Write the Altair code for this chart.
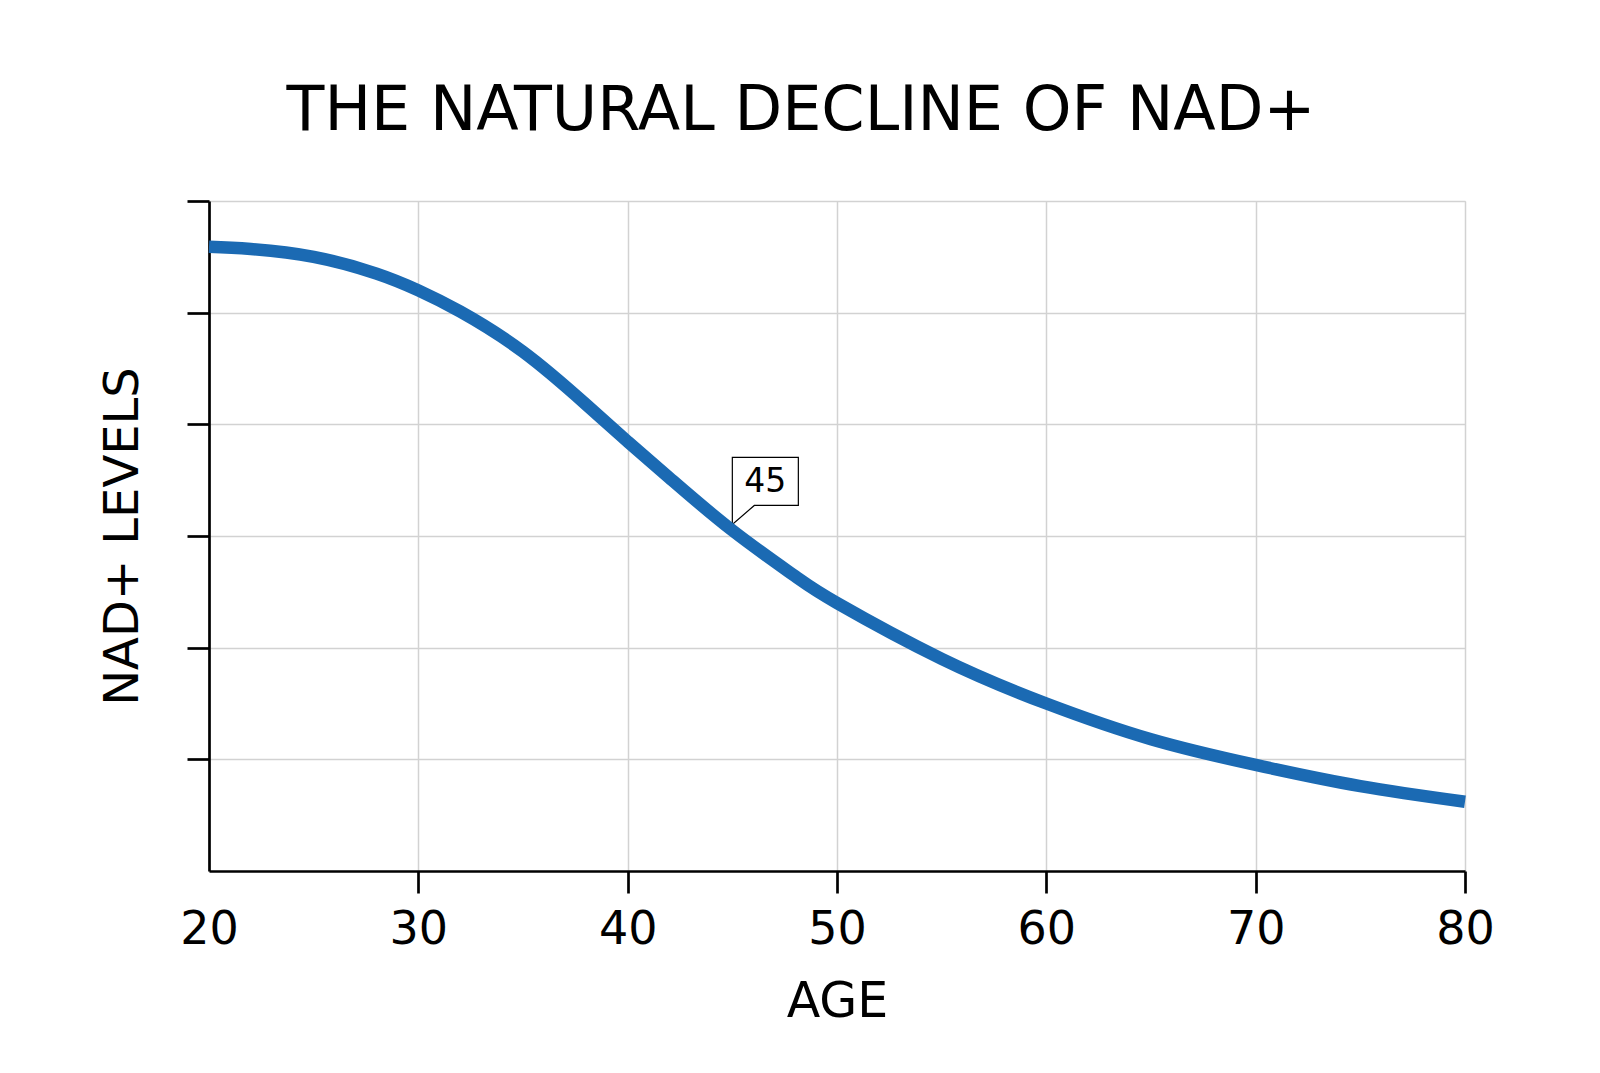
import altair as alt
import pandas as pd

ages = [20, 22, 25, 28, 30, 32, 35, 38, 40, 42, 45, 48, 50, 55, 60, 65, 70, 75, 80]
nad_levels = [111.8, 111.4, 110.0, 107.0, 104.0, 100.2, 93.0, 83.6, 76.9, 70.4,
              61.0, 52.8, 48.0, 38.0, 30.0, 23.6, 19.0, 15.2, 12.4]
x_ticks = [20, 30, 40, 50, 60, 70, 80]
y_ticks = [20, 40, 60, 80, 100, 120]
callout_age = [45]
callout_level = [61.0]
callout_text = ["45"]

FONT = "DejaVu Sans"
BLUE = "#1b6ab3"

df = pd.DataFrame({"age": ages, "nad": nad_levels})
cdf = pd.DataFrame({"age": callout_age, "nad": callout_level, "label": callout_text})

x_enc = alt.X(
    "age:Q",
    scale=alt.Scale(domain=[20, 80], nice=False, zero=False),
    axis=alt.Axis(
        title="AGE", values=x_ticks, format="d",
        labelFontSize=46, labelFont=FONT, labelColor="black",
        labelFlush=False, labelPadding=14, tickSize=22, tickWidth=2.7,
        tickColor={"expr": "datum.value == 20 ? 'transparent' : 'black'"},
        domainColor="black", domainWidth=2.7,
        gridColor="#d2d2d2", gridWidth=1.5,
        titleFontSize=49, titleFont=FONT, titleFontWeight="normal", titleColor="black",
        titlePadding=25,
    ),
)
y_enc = alt.Y(
    "nad:Q",
    scale=alt.Scale(domain=[0, 120], nice=False),
    axis=alt.Axis(
        title="NAD+ LEVELS", values=y_ticks, labels=False,
        tickSize=22, tickWidth=2.7, tickColor="black",
        domainColor="black", domainWidth=2.7,
        gridColor="#d2d2d2", gridWidth=1.5,
        titleFontSize=48, titleFont=FONT, titleFontWeight="normal", titleColor="black",
        titlePadding=38,
    ),
)

line = alt.Chart(df).mark_line(
    color=BLUE, strokeWidth=12.5, interpolate="natural", strokeCap="butt"
).encode(x=x_enc, y=y_enc)

callout_path = "M0,0 L0,-0.957 L0.943,-0.957 L0.943,-0.271 L0.314,-0.271 Z"
callout_box = alt.Chart(cdf).mark_point(
    shape=callout_path, size=19600, filled=True, fill="white", stroke="black",
    strokeWidth=1.2, opacity=1, yOffset=-6,
).encode(x="age:Q", y="nad:Q")

callout_label = alt.Chart(cdf).mark_text(
    font=FONT, fontSize=33, color="black",
    align="center", baseline="middle", dx=33, dy=-48,
).encode(x="age:Q", y="nad:Q", text="label:N")

chart = alt.layer(callout_box, line, callout_label).properties(
    width=1256,
    height=670,
    title=alt.TitleParams(
        "THE NATURAL DECLINE OF NAD+", font=FONT, fontSize=62, fontWeight="normal",
        color="black", anchor="middle", frame="group", dx=-36, offset=57,
    ),
    autosize=alt.AutoSizeParams(type="none"),
    padding={"left": 201, "top": 193, "right": 127, "bottom": 186},
).configure_view(stroke=None).configure(background="white")

chart.save("out.html", embed_options={"renderer": "svg", "actions": False})
